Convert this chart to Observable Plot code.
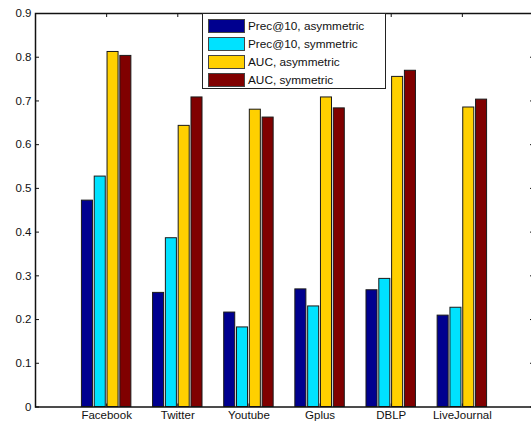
<!DOCTYPE html>
<html>
<head>
<meta charset="utf-8">
<script src="https://cdn.jsdelivr.net/npm/d3@7"></script>
<script src="https://cdn.jsdelivr.net/npm/@observablehq/plot@0.6"></script>
<style>
  html, body { margin: 0; padding: 0; background: #fff; overflow: hidden; }
  #wrap { position: relative; width: 531px; height: 423px; font-family: "Liberation Sans", Arial, Helvetica, sans-serif; }
  #legend { position: absolute; left: 202px; top: 13px; width: 182px; height: 74px; border: 1.5px solid #222; background: #fff; box-sizing: content-box; }
  .row { position: absolute; left: 5px; height: 13px; display: flex; align-items: center; }
  .sw { width: 35px; height: 12px; border: 1px solid #444; margin-right: 3px; }
  .lbl { font-size: 11.8px; color: #111; white-space: nowrap; }
</style>
</head>
<body>
<div id="wrap"></div>
<script>
const categories = ["Facebook", "Twitter", "Youtube", "Gplus", "DBLP", "LiveJournal"];
const seriesNames = ["Prec@10, asymmetric", "Prec@10, symmetric", "AUC, asymmetric", "AUC, symmetric"];
const precAsym = [0.472, 0.261, 0.216, 0.269, 0.267, 0.209];
const precSym  = [0.527, 0.386, 0.182, 0.230, 0.293, 0.227];
const aucAsym  = [0.812, 0.643, 0.680, 0.708, 0.755, 0.685];
const aucSym   = [0.803, 0.708, 0.662, 0.683, 0.769, 0.703];
const colors = ["#00008f", "#00e2ff", "#ffd000", "#800000"];
const yTicks = [0, 0.1, 0.2, 0.3, 0.4, 0.5, 0.6, 0.7, 0.8, 0.9];

const seriesValues = [precAsym, precSym, aucAsym, aucSym];
const table = [];
categories.forEach((c, i) => {
  seriesValues.forEach((vals, k) => {
    table.push({cat: c, pos: i + 1, k, series: seriesNames[k], value: vals[i]});
  });
});
const pitch = 0.18, bw = 0.155;

const fontFamily = '"Liberation Sans", Arial, Helvetica, sans-serif';
const chart = Plot.plot({
  width: 531,
  height: 423,
  marginLeft: 35,
  marginRight: -2,
  marginTop: 13,
  marginBottom: 16.5,
  style: {fontFamily, fontSize: "11.5px", color: "#111", background: "#fff", overflow: "visible"},
  x: {domain: [0, 7]},
  y: {domain: [0, 0.9]},
  color: {domain: seriesNames, range: colors},
  marks: [
    Plot.rect(table, {
      x1: d => d.pos + (d.k - 1.5) * pitch - bw / 2,
      x2: d => d.pos + (d.k - 1.5) * pitch + bw / 2,
      y1: 0,
      y2: "value",
      fill: "series",
      stroke: "#1a1a1a",
      strokeWidth: 1
    }),
    Plot.axisY({anchor: "left", ticks: yTicks, tickSize: -4, tickPadding: 8, tickFormat: d => d === 0 ? "0" : d.toFixed(1), label: null}),
    Plot.axisY({anchor: "right", ticks: yTicks, tickSize: -4, tickFormat: () => "", label: null}),
    Plot.axisX({anchor: "bottom", ticks: [1, 2, 3, 4, 5, 6], tickSize: -3, tickPadding: 7, tickFormat: d => categories[d - 1], label: null}),
    Plot.axisX({anchor: "top", ticks: [1, 2, 3, 4, 5, 6], tickSize: -3, tickFormat: () => "", label: null}),
    Plot.frame({stroke: "#111", strokeWidth: 1.5})
  ]
});

const wrap = document.getElementById("wrap");
wrap.appendChild(chart);

const legend = document.createElement("div");
legend.id = "legend";
seriesNames.forEach((name, k) => {
  const row = document.createElement("div");
  row.className = "row";
  row.style.top = (5 + k * 18) + "px";
  const sw = document.createElement("div");
  sw.className = "sw";
  sw.style.background = colors[k];
  const lbl = document.createElement("span");
  lbl.className = "lbl";
  lbl.textContent = name;
  row.appendChild(sw);
  row.appendChild(lbl);
  legend.appendChild(row);
});
wrap.appendChild(legend);
</script>
</body>
</html>
